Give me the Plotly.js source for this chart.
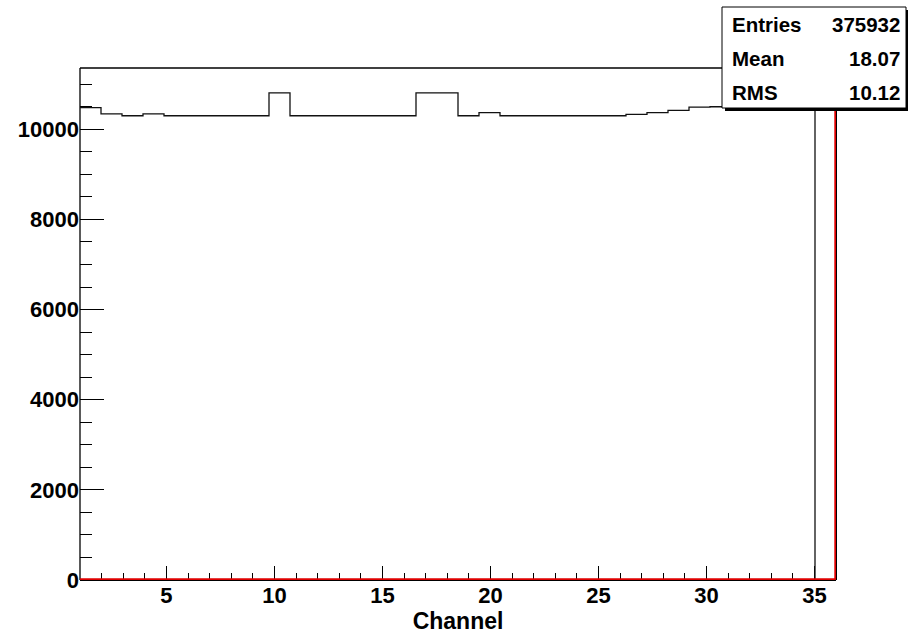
<!DOCTYPE html>
<html>
<head>
<meta charset="utf-8">
<script src="https://cdn.plot.ly/plotly-3.0.1.min.js"></script>
<style>
  html, body { margin: 0; padding: 0; background: #fff; }
  #chart { width: 908px; height: 636px; }
</style>
</head>
<body>
<div id="chart"></div>
<script>
// ---- data ----
const xMin = 1;
const xMax = 36;
const nBins = 36;
const yMax = 11360;
// black histogram: counts per channel bin (last bin empty)
const blackCounts = [
  10480, 10340, 10300, 10340, 10300, 10300, 10300, 10300, 10300, 10810,
  10300, 10300, 10300, 10300, 10300, 10300, 10810, 10810, 10300, 10370,
  10300, 10300, 10300, 10300, 10300, 10300, 10330, 10370, 10420, 10490,
  10500, 10510, 10520, 10500, 10480, 0
];
// red histogram: empty everywhere
const redCounts = new Array(36).fill(0);
const statLabels = ["Entries", "Mean", "RMS"];
const statValues = ["375932", "18.07", "10.12"];
const xTitle = "Channel";

// ---- build step outlines ----
const binW = (xMax - xMin) / nBins;
function stepXY(counts) {
  const xs = [], ys = [];
  for (let i = 0; i < counts.length; i++) {
    xs.push(xMin + i * binW);
    ys.push(counts[i]);
  }
  xs.push(xMin + counts.length * binW);
  ys.push(counts[counts.length - 1]);
  return { xs, ys };
}
const b = stepXY(blackCounts);
const r = stepXY(redCounts);
// red outline closes up the right edge
r.xs.push(xMax); r.ys.push(yMax);

// ---- layout geometry ----
const W = 908, H = 636;
const mL = 80, mR = 72, mT = 68, mB = 56;
const pw = W - mL - mR, ph = H - mT - mB;
const px = v => (v - mL) / pw;          // pixel x -> paper x
const py = v => (H - mB - v) / ph;      // pixel y -> paper y

const font = "Liberation Sans, Arial, Helvetica, sans-serif";

const traces = [
  {
    x: b.xs, y: b.ys, type: "scatter", mode: "lines",
    line: { shape: "hv", color: "#111", width: 1.3 },
    cliponaxis: false, hoverinfo: "skip", showlegend: false
  },
  {
    // drawn on the frame edge; half the stroke is clipped by the plot area
    x: r.xs, y: r.ys, type: "scatter", mode: "lines",
    line: { shape: "hv", color: "#e00000", width: 3.4 },
    cliponaxis: false, hoverinfo: "skip", showlegend: false
  }
];

const frameLine = (x0, y0, x1, y1, w) => ({
  type: "line", xref: "paper", yref: "paper", layer: "below",
  x0, y0, x1, y1, line: { color: "#000", width: w }
});

const shapes = [
  // frame (under the traces)
  frameLine(0, 1, 1, 1, 1.3),     // top
  frameLine(0, 0, 0, 1, 1.3),     // left
  frameLine(0, 0, 1, 0, 2),       // bottom
  frameLine(1, 0, 1, 1, 2),       // right
  // stats box shadow
  { type: "rect", xref: "paper", yref: "paper", layer: "above",
    x0: px(725), x1: px(909), y0: py(111), y1: py(10),
    fillcolor: "#000", line: { width: 0 } },
  // stats box
  { type: "rect", xref: "paper", yref: "paper", layer: "above",
    x0: px(722), x1: px(906), y0: py(108), y1: py(7),
    fillcolor: "#fff", line: { color: "#000", width: 1 } }
];

const rowY = [24, 58, 92];
const annotations = [];
statLabels.forEach((lab, i) => {
  annotations.push({
    xref: "paper", yref: "paper", x: px(730), y: py(rowY[i]),
    xanchor: "left", yanchor: "middle", showarrow: false,
    text: lab, font: { family: font, size: 20.5, color: "#000", weight: "bold" }
  });
  annotations.push({
    xref: "paper", yref: "paper", x: px(902), y: py(rowY[i]),
    xanchor: "right", yanchor: "middle", showarrow: false,
    text: statValues[i], font: { family: font, size: 20.5, color: "#000", weight: "bold" }
  });
});

const layout = {
  width: W, height: H,
  margin: { l: mL, r: mR, t: mT, b: mB, pad: 0 },
  paper_bgcolor: "#fff", plot_bgcolor: "rgba(0,0,0,0)",
  showlegend: false,
  xaxis: {
    range: [xMin, xMax], showgrid: false, zeroline: false, layer: "below traces",
    showline: false,
    ticks: "inside", ticklen: 14, tickcolor: "#000", tickwidth: 1,
    tick0: 0, dtick: 5,
    minor: { ticks: "inside", ticklen: 7, tickcolor: "#000", dtick: 1, tick0: 0, showgrid: false },
    tickfont: { family: font, size: 22, color: "#000", weight: "bold" },
    title: { text: xTitle, font: { family: font, size: 23, color: "#000", weight: "bold" }, standoff: 4 }
  },
  yaxis: {
    range: [0, yMax], showgrid: false, zeroline: false, layer: "below traces",
    showline: false,
    ticks: "inside", ticklen: 24, tickcolor: "#000", tickwidth: 1,
    tick0: 0, dtick: 2000, tickformat: "d",
    minor: { ticks: "inside", ticklen: 12, tickcolor: "#000", dtick: 500, tick0: 0, showgrid: false },
    tickfont: { family: font, size: 22, color: "#000", weight: "bold" }
  },
  shapes: shapes,
  annotations: annotations
};

Plotly.newPlot("chart", traces, layout, { staticPlot: true, displayModeBar: false });
</script>
</body>
</html>
